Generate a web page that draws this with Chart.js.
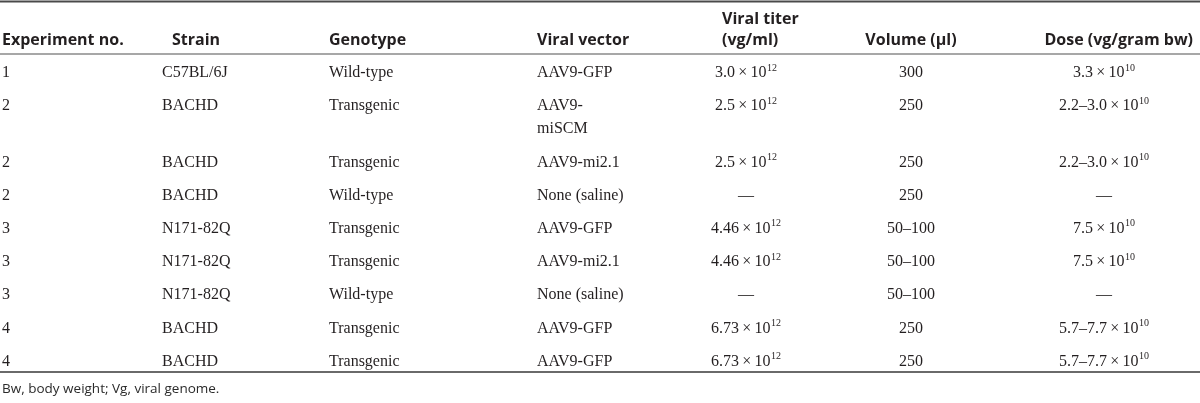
<!DOCTYPE html>
<html>
<head>
<meta charset="utf-8">
<script src="https://cdn.jsdelivr.net/npm/chart.js@4.4.1/dist/chart.umd.min.js"></script>
<style>
  html, body { margin: 0; padding: 0; background: #ffffff; }
  #wrap { width: 1200px; height: 403px; position: relative; }
</style>
</head>
<body>
<div id="wrap"><canvas id="c" width="1200" height="403"></canvas></div>
<script>
// ---------------- DATA ----------------
const headers = [
  ['Experiment no.'],
  ['Strain'],
  ['Genotype'],
  ['Viral vector'],
  ['Viral titer', '(vg/ml)'],
  ['Volume (µl)'],
  ['Dose (vg/gram bw)']
];
const experimentNo = ['1', '2', '2', '2', '3', '3', '3', '4', '4'];
const strain = ['C57BL/6J', 'BACHD', 'BACHD', 'BACHD', 'N171-82Q', 'N171-82Q', 'N171-82Q', 'BACHD', 'BACHD'];
const genotype = ['Wild-type', 'Transgenic', 'Transgenic', 'Wild-type', 'Transgenic', 'Transgenic', 'Wild-type', 'Transgenic', 'Transgenic'];
const viralVector = ['AAV9-GFP', 'AAV9-\nmiSCM', 'AAV9-mi2.1', 'None (saline)', 'AAV9-GFP', 'AAV9-mi2.1', 'None (saline)', 'AAV9-GFP', 'AAV9-GFP'];
const viralTiter = ['3.0×10^12', '2.5×10^12', '2.5×10^12', '—', '4.46×10^12', '4.46×10^12', '—', '6.73×10^12', '6.73×10^12'];
const volume = ['300', '250', '250', '250', '50–100', '50–100', '50–100', '250', '250'];
const dose = ['3.3×10^10', '2.2–3.0×10^10', '2.2–3.0×10^10', '—', '7.5×10^10', '7.5×10^10', '—', '5.7–7.7×10^10', '5.7–7.7×10^10'];
const footnote = 'Bw, body weight; Vg, viral genome.';

const columnValues = [experimentNo, strain, genotype, viralVector, viralTiter, volume, dose];

// ---------------- LAYOUT (options) ----------------
const layout = {
  cols: [
    { x: 2,    align: 'left',   hx: 2,    halign: 'left' },
    { x: 162,  align: 'left',   hx: 196,  halign: 'center' },
    { x: 329,  align: 'left',   hx: 329,  halign: 'left' },
    { x: 537,  align: 'left',   hx: 537,  halign: 'left' },
    { x: 746,  align: 'center', hx: 722,  halign: 'left' },
    { x: 911,  align: 'center', hx: 911,  halign: 'center' },
    { x: 1104, align: 'center', hx: 1193, halign: 'right' }
  ],
  headerLine1: 19,
  headerLine2: 40,
  topRule: 1.5,
  headRule: 54,
  firstRow: 73,
  rowPitch: 33.2,
  lineH: 23,
  bottomRule: 372,
  footY: 389,
  bodyFont: '16px "Liberation Serif", "Times New Roman", serif',
  supFont: '10px "Liberation Serif", "Times New Roman", serif',
  headFont: 'bold 16px "Open Sans", "Noto Sans", sans-serif',
  footFont: '13.5px "Open Sans", "Noto Sans", sans-serif',
  textColor: '#231f20'
};

// row vertical positions derived from number of lines per row
const rowLines = experimentNo.map((_, r) => Math.max(...columnValues.map(col => col[r].split('\n').length)));
const rowY = [];
{
  let extra = 0;
  for (let r = 0; r < rowLines.length; r++) {
    rowY.push(layout.firstRow + r * layout.rowPitch + extra * layout.lineH);
    extra += rowLines[r] - 1;
  }
}

const datasets = columnValues.map((vals, c) => ({
  label: headers[c].join(' '),
  data: vals.map((v, r) => ({ x: layout.cols[c].x, y: rowY[r] })),
  texts: vals,
  align: layout.cols[c].align,
  pointRadius: 0,
  pointHoverRadius: 0
}));
// header dataset
datasets.push({
  label: 'headers',
  isHeader: true,
  data: headers.map((h, c) => ({ x: layout.cols[c].hx, y: layout.headerLine2 })),
  pointRadius: 0,
  pointHoverRadius: 0
});

function drawCell(ctx, text, x, y, align) {
  const m = text.match(/^(.*)×10\^(\d+)$/);
  ctx.textBaseline = 'middle';
  if (!m) {
    ctx.font = layout.bodyFont;
    ctx.textAlign = align;
    ctx.fillText(text, x, y);
    return;
  }
  const main = m[1] + '\u2009×\u200910';
  const sup = m[2];
  ctx.font = layout.bodyFont;
  const w1 = ctx.measureText(main).width;
  ctx.font = layout.supFont;
  const w2 = ctx.measureText(sup).width;
  const total = w1 + w2 + 0.5;
  let sx = x;
  if (align === 'center') sx = x - total / 2;
  else if (align === 'right') sx = x - total;
  ctx.textAlign = 'left';
  ctx.font = layout.bodyFont;
  ctx.fillText(main, sx, y);
  ctx.font = layout.supFont;
  ctx.fillText(sup, sx + w1 + 0.5, y - 5);
}

const tablePlugin = {
  id: 'tablePlugin',
  afterDraw(chart) {
    const ctx = chart.ctx;
    const xs = chart.scales.x, ys = chart.scales.y;
    ctx.save();
    // rules
    const rule = (yv, w, color) => {
      ctx.strokeStyle = color;
      ctx.lineWidth = w;
      ctx.beginPath();
      const py = ys.getPixelForValue(yv);
      ctx.moveTo(xs.getPixelForValue(0), py);
      ctx.lineTo(xs.getPixelForValue(1200), py);
      ctx.stroke();
    };
    rule(layout.topRule, 2, '#4a4a4a');
    rule(layout.headRule, 1.5, '#8a8a8a');
    rule(layout.bottomRule, 2, '#6a6a6a');

    ctx.fillStyle = layout.textColor;
    chart.data.datasets.forEach((ds, di) => {
      const meta = chart.getDatasetMeta(di);
      meta.data.forEach((el, i) => {
        if (ds.isHeader) {
          const lines = headers[i];
          const al = layout.cols[i].halign;
          ctx.font = layout.headFont;
          ctx.textAlign = al;
          ctx.textBaseline = 'middle';
          const gap = ys.getPixelForValue(layout.headerLine2) - ys.getPixelForValue(layout.headerLine1);
          lines.forEach((ln, k) => {
            ctx.fillText(ln, el.x, el.y - (lines.length - 1 - k) * gap);
          });
        } else {
          const lines = ds.texts[i].split('\n');
          const lh = ys.getPixelForValue(layout.lineH) - ys.getPixelForValue(0);
          lines.forEach((ln, k) => drawCell(ctx, ln, el.x, el.y + k * lh, ds.align));
        }
      });
    });
    // footnote
    ctx.font = layout.footFont;
    ctx.textAlign = 'left';
    ctx.textBaseline = 'middle';
    ctx.fillStyle = '#2a2a2a';
    ctx.fillText(footnote, xs.getPixelForValue(2), ys.getPixelForValue(layout.footY));
    ctx.restore();
  }
};

new Chart(document.getElementById('c'), {
  type: 'scatter',
  data: { datasets },
  options: {
    responsive: false,
    animation: false,
    devicePixelRatio: 1,
    layout: { padding: 0 },
    plugins: { legend: { display: false }, tooltip: { enabled: false }, title: { display: false } },
    events: [],
    scales: {
      x: { type: 'linear', min: 0, max: 1200, display: false },
      y: { type: 'linear', min: 0, max: 403, reverse: true, display: false }
    }
  },
  plugins: [tablePlugin]
});
</script>
</body>
</html>
